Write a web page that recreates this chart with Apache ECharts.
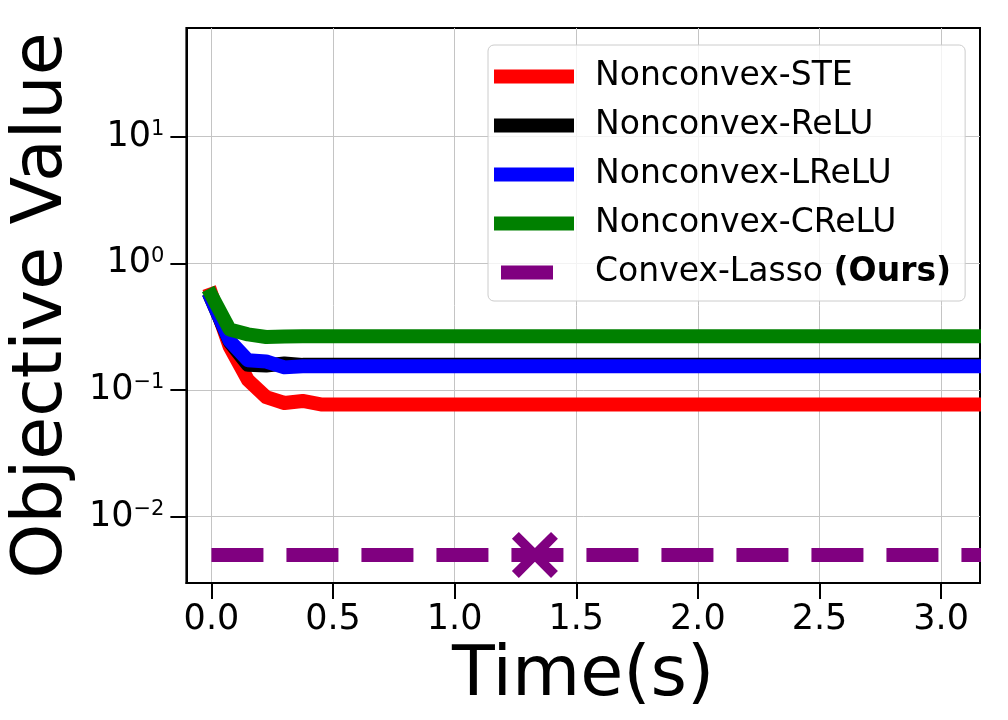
<!DOCTYPE html>
<html>
<head>
<meta charset="utf-8">
<script src="https://cdn.jsdelivr.net/npm/echarts@6/dist/echarts.min.js"></script>
<style>
  html, body { margin: 0; padding: 0; background: #fff; }
  #chart { width: 1008px; height: 720px; }
</style>
</head>
<body>
<div id="chart"></div>
<script>
// time samples (s) and objective values
var times = [0, 0.075, 0.15, 0.225, 0.3, 0.375, 0.45, 3.2];
var steValues = [0.57, 0.22, 0.12, 0.088, 0.079, 0.082, 0.077, 0.077];
var reluValues = [0.52, 0.24, 0.158, 0.156, 0.162, 0.158, 0.158, 0.158];
var lreluValues = [0.52, 0.245, 0.172, 0.168, 0.151, 0.154, 0.154, 0.154];
var creluValues = [0.56, 0.30, 0.275, 0.262, 0.265, 0.266, 0.266, 0.266];

// convex lasso: one flat value, solved at a single time
var lassoTimes = [0, 3.2];
var lassoValues = [0.005, 0.005];
var lassoDone = [1.33, 0.005];

var xTicks = [0, 0.5, 1.0, 1.5, 2.0, 2.5, 3.0];
var yTicks = [0.01, 0.1, 1, 10];

var names = ['Nonconvex-STE', 'Nonconvex-ReLU', 'Nonconvex-LReLU', 'Nonconvex-CReLU', 'Convex-Lasso (Ours)'];
var colors = ['#ff0000', '#000000', '#0000ff', '#008000', '#800080'];

function pairs(xs, ys) {
  return xs.map(function(x, i) { return [x, ys[i]]; });
}

var chart = echarts.init(document.getElementById('chart'));

var solid = [steValues, reluValues, lreluValues, creluValues].map(function(vals, i) {
  return {
    name: names[i],
    type: 'line',
    data: pairs(times, vals),
    symbol: 'none',
    color: colors[i],
    lineStyle: { width: 14, color: colors[i], cap: 'square', join: 'round' },
    z: 2 + i
  };
});

var option = {
  animation: false,
  backgroundColor: '#fff',
  textStyle: { fontFamily: 'DejaVu Sans', color: '#000' },
  grid: {
    left: 184, top: 28, right: 28, bottom: 137,
    show: true, borderColor: '#000', borderWidth: 2
  },
  // hides the line ends that spill past the right frame
  graphic: [{
    type: 'rect', z: 100,
    shape: { x: 981, y: 0, width: 27, height: 720 },
    style: { fill: '#fff' }
  }],
  legend: {
    left: 488, top: 45,
    orient: 'vertical',
    itemWidth: 80, itemHeight: 14, itemGap: 16,
    padding: [15, 14, 12, 6],
    backgroundColor: 'rgba(255,255,255,0.8)',
    borderColor: '#cccccc', borderWidth: 1, borderRadius: 6,
    selectedMode: false,
    itemStyle: { borderWidth: 0 },
    textStyle: {
      fontFamily: 'DejaVu Sans', fontSize: 33, color: '#000',
      padding: [0, 0, 0, 16],
      rich: {
        n: { fontFamily: 'DejaVu Sans', fontSize: 33, color: '#000', lineHeight: 36 },
        b: { fontFamily: 'DejaVu Sans', fontSize: 33, fontWeight: 'bold', color: '#000', lineHeight: 36 }
      }
    },
    formatter: function(name) {
      return name === names[4] ? '{n|Convex-Lasso }{b|(Ours)}' : '{n|' + name + '}';
    },
    data: [
      { name: names[0], icon: 'rect' },
      { name: names[1], icon: 'rect' },
      { name: names[2], icon: 'rect' },
      { name: names[3], icon: 'rect' },
      { name: names[4], icon: 'path://M0,0 H52 V14 H0 Z M66,14' }
    ]
  },
  xAxis: {
    type: 'value',
    min: -0.103, max: 3.16,
    splitNumber: 7,
    name: 'Time(s)',
    nameLocation: 'middle',
    nameGap: 55,
    nameTextStyle: { fontFamily: 'DejaVu Sans', fontSize: 70, color: '#000' },
    axisLine: { show: true, onZero: false, lineStyle: { color: '#000', width: 2 } },
    axisTick: { show: true, length: 16, lineStyle: { color: '#000', width: 2 }, customValues: xTicks },
    axisLabel: {
      fontSize: 35, color: '#000', margin: 19, customValues: xTicks,
      formatter: function(v) { return v.toFixed(1); }
    },
    splitLine: { show: true, lineStyle: { color: '#c4c4c4', width: 1 } }
  },
  yAxis: {
    type: 'log',
    logBase: 10,
    min: 0.003, max: 72,
    name: 'Objective Value',
    nameLocation: 'middle',
    nameGap: 106,
    nameTextStyle: { fontFamily: 'DejaVu Sans', fontSize: 70, color: '#000' },
    axisLine: { show: true, onZero: false, lineStyle: { color: '#000', width: 2 } },
    axisTick: { show: true, length: 16, lineStyle: { color: '#000', width: 2 }, customValues: yTicks },
    axisLabel: {
      margin: 22, customValues: yTicks,
      formatter: function(v) {
        var e = Math.round(Math.log10(v));
        return '{b|10}{s|' + (e < 0 ? '\u2212' + (-e) : e) + '}';
      },
      rich: {
        b: { fontFamily: 'DejaVu Sans', fontSize: 35, color: '#000', lineHeight: 35, verticalAlign: 'bottom' },
        s: { fontFamily: 'DejaVu Sans', fontSize: 21, color: '#000', lineHeight: 14, verticalAlign: 'top' }
      }
    },
    splitLine: { show: true, lineStyle: { color: '#c4c4c4', width: 1 } }
  },
  series: solid.concat([
    {
      name: names[4],
      type: 'line',
      data: pairs(lassoTimes, lassoValues),
      symbol: 'none',
      color: colors[4],
      lineStyle: { width: 14, color: colors[4], type: [52, 23], cap: 'butt' },
      z: 7
    },
    {
      name: 'lasso-end',
      type: 'scatter',
      data: [lassoDone],
      symbol: 'path://M0,1.5 L1.5,0 L5,3.5 L8.5,0 L10,1.5 L6.5,5 L10,8.5 L8.5,10 L5,6.5 L1.5,10 L0,8.5 L3.5,5 Z',
      symbolSize: [46, 46],
      itemStyle: { color: colors[4], opacity: 1 },
      z: 8
    }
  ])
};

chart.setOption(option);
</script>
</body>
</html>
